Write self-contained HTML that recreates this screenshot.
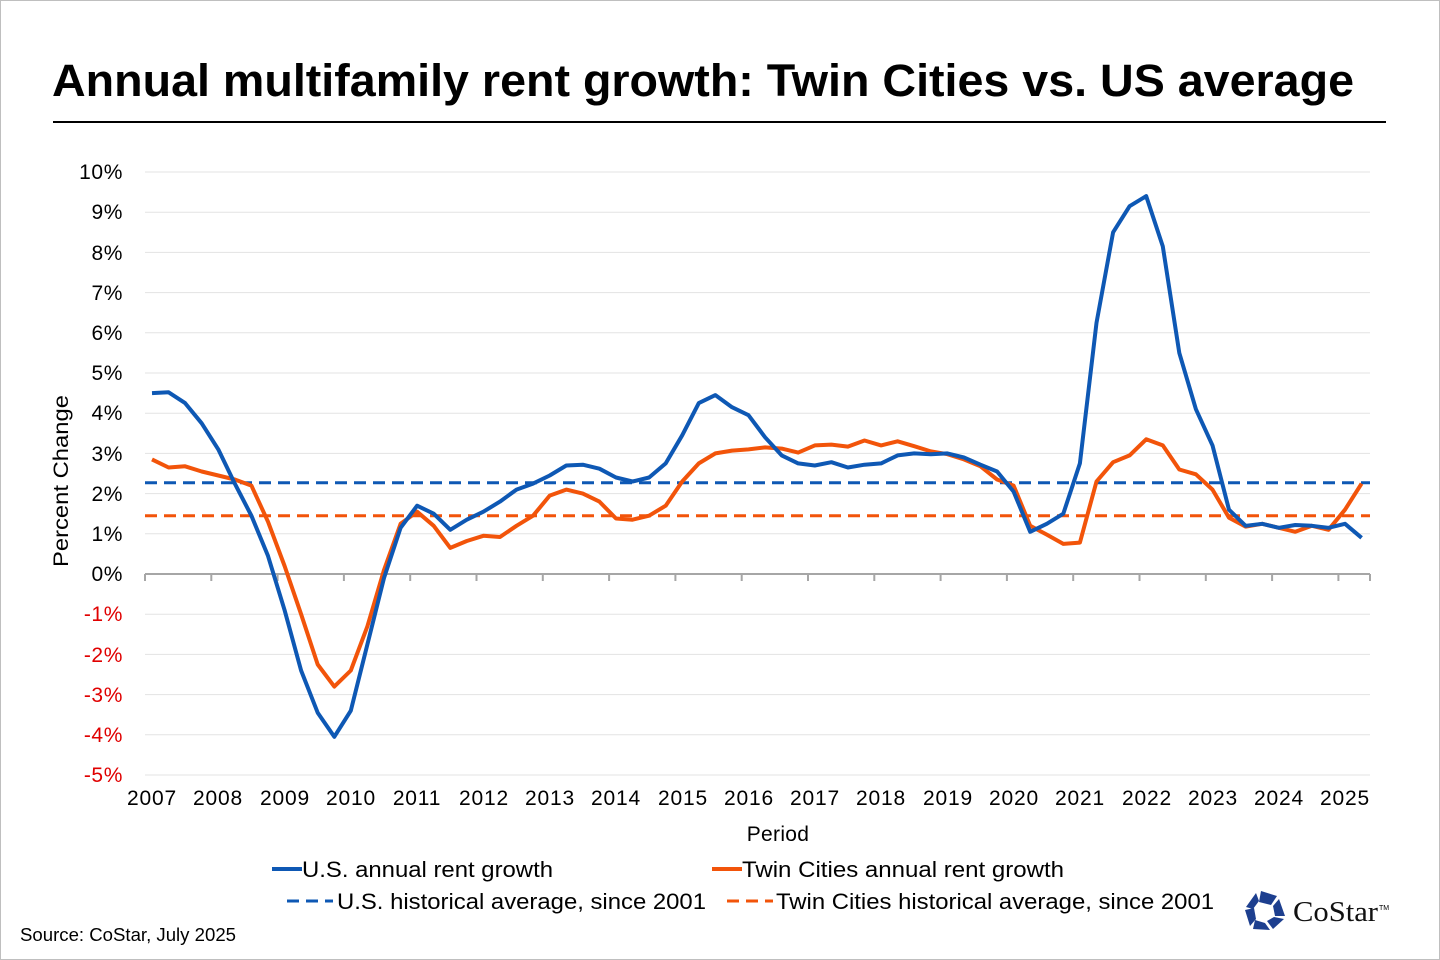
<!DOCTYPE html>
<html><head><meta charset="utf-8"><style>
html,body{margin:0;padding:0;background:#fff}
svg{display:block;font-family:"Liberation Sans",Arial,sans-serif}
</style></head><body>
<svg id="s" width="1440" height="960" viewBox="0 0 1440 960" xmlns="http://www.w3.org/2000/svg">
<rect x="0.5" y="0.5" width="1439" height="959" fill="#fff" stroke="#bfbfbf"/>
<text x="52" y="96" font-size="45" font-weight="bold" fill="#000" textLength="1302" lengthAdjust="spacingAndGlyphs">Annual multifamily rent growth: Twin Cities vs. US average</text>
<line x1="53" y1="122" x2="1386" y2="122" stroke="#000" stroke-width="2"/>
<g id="grid"></g>
<g font-size="21" text-anchor="end" letter-spacing="0.6">
<text x="123" y="179">10%</text><text x="123" y="219">9%</text><text x="123" y="260">8%</text><text x="123" y="300">7%</text><text x="123" y="340">6%</text><text x="123" y="380">5%</text><text x="123" y="420">4%</text><text x="123" y="461">3%</text><text x="123" y="501">2%</text><text x="123" y="541">1%</text><text x="123" y="581">0%</text>
<g fill="#e00000"><text x="123" y="621">-1%</text><text x="123" y="662">-2%</text><text x="123" y="702">-3%</text><text x="123" y="742">-4%</text><text x="123" y="782">-5%</text></g>
</g>
<g font-size="21" text-anchor="middle" letter-spacing="0.8">
<text x="152" y="805">2007</text><text x="218" y="805">2008</text><text x="285" y="805">2009</text><text x="351" y="805">2010</text><text x="417" y="805">2011</text><text x="484" y="805">2012</text><text x="550" y="805">2013</text><text x="616" y="805">2014</text><text x="683" y="805">2015</text><text x="749" y="805">2016</text><text x="815" y="805">2017</text><text x="881" y="805">2018</text><text x="948" y="805">2019</text><text x="1014" y="805">2020</text><text x="1080" y="805">2021</text><text x="1147" y="805">2022</text><text x="1213" y="805">2023</text><text x="1279" y="805">2024</text><text x="1345" y="805">2025</text>
<text x="778" y="841" letter-spacing="0.3">Period</text>
</g>
<text transform="translate(68,481) rotate(-90)" font-size="21" text-anchor="middle" textLength="172" lengthAdjust="spacingAndGlyphs">Percent Change</text>
<g id="series"></g>
<g font-size="22">
<line x1="272" y1="869" x2="302" y2="869" stroke="#0e58b4" stroke-width="4"/><text x="302" y="877" textLength="251" lengthAdjust="spacingAndGlyphs">U.S. annual rent growth</text>
<line x1="712" y1="869" x2="742" y2="869" stroke="#f2540a" stroke-width="4"/><text x="742" y="877" textLength="322" lengthAdjust="spacingAndGlyphs">Twin Cities annual rent growth</text>
<line x1="287" y1="901" x2="333" y2="901" stroke="#0e58b4" stroke-width="3" stroke-dasharray="12,7"/><text x="337" y="909" textLength="369" lengthAdjust="spacingAndGlyphs">U.S. historical average, since 2001</text>
<line x1="727" y1="901" x2="773" y2="901" stroke="#f2540a" stroke-width="3" stroke-dasharray="12,7"/><text x="776" y="909" textLength="438" lengthAdjust="spacingAndGlyphs">Twin Cities historical average, since 2001</text>
</g>
<text x="20" y="941" font-size="18" textLength="216" lengthAdjust="spacingAndGlyphs">Source: CoStar, July 2025</text>
<g transform="translate(1265,910)" fill="#1d3f8f">
<polygon points="-4,-19 12,-14 6,-5 -6,-8"/><polygon points="14,-11 20,6 10,6 8,-4"/><polygon points="19,9 8,19 2,11 9,7"/><polygon points="5,20 -12,19 -10,10 0,13"/><polygon points="-15,16 -20,0 -11,-2 -9,9"/><polygon points="-19,-3 -9,-17 -6,-9 -12,-1"/>
</g>
<text x="1293" y="921" font-size="28" font-family="Liberation Serif,serif" fill="#111" textLength="85" lengthAdjust="spacingAndGlyphs">CoStar</text>
<text x="1379" y="910" font-size="7">TM</text>
</svg>
<script>
var ns="http://www.w3.org/2000/svg";
function el(p,t,a){var e=document.createElementNS(ns,t);for(var k in a)e.setAttribute(k,a[k]);document.getElementById(p).appendChild(e);return e;}
function Y(v){return 574-v*40.2;}
for(var v=-5;v<=10;v++){if(v==0)continue;el("grid","line",{x1:145,x2:1370,y1:Y(v),y2:Y(v),stroke:"#e3e3e3","stroke-width":1});}
el("grid","line",{x1:145,x2:1370,y1:574,y2:574,stroke:"#a6a6a6","stroke-width":2});
for(var k=0;k<=18;k++){var x=145+k*66.3;el("grid","line",{x1:x,x2:x,y1:574,y2:581,stroke:"#a6a6a6","stroke-width":2});}
el("grid","line",{x1:1370,x2:1370,y1:574,y2:581,stroke:"#a6a6a6","stroke-width":2});
var us=[4.5,4.52,4.25,3.75,3.1,2.25,1.45,0.45,-0.9,-2.4,-3.45,-4.05,-3.4,-1.75,-0.1,1.15,1.7,1.5,1.1,1.35,1.55,1.8,2.1,2.25,2.45,2.7,2.72,2.62,2.4,2.3,2.4,2.75,3.45,4.25,4.45,4.15,3.95,3.4,2.95,2.75,2.7,2.78,2.65,2.72,2.75,2.95,3.0,2.98,3.0,2.9,2.72,2.55,2.05,1.05,1.25,1.5,2.75,6.25,8.5,9.15,9.4,8.15,5.5,4.1,3.2,1.6,1.2,1.25,1.15,1.22,1.2,1.15,1.25,0.9];
var tc=[2.85,2.65,2.68,2.55,2.45,2.35,2.2,1.3,0.2,-1.0,-2.25,-2.8,-2.4,-1.3,0.1,1.25,1.55,1.2,0.65,0.82,0.95,0.92,1.2,1.45,1.95,2.1,2.0,1.8,1.38,1.35,1.45,1.7,2.3,2.75,3.0,3.07,3.1,3.15,3.12,3.02,3.2,3.22,3.17,3.32,3.2,3.3,3.18,3.05,2.98,2.85,2.68,2.35,2.2,1.2,0.98,0.75,0.78,2.3,2.78,2.95,3.35,3.2,2.6,2.48,2.1,1.4,1.18,1.25,1.15,1.05,1.2,1.1,1.6,2.25];
function pts(a){return a.map(function(v,i){return (152+i*16.57).toFixed(1)+","+Y(v).toFixed(1);}).join(" ");}
el("series","line",{x1:145,x2:1370,y1:Y(2.27),y2:Y(2.27),stroke:"#0e58b4","stroke-width":3,"stroke-dasharray":"12,7"});
el("series","line",{x1:145,x2:1370,y1:Y(1.45),y2:Y(1.45),stroke:"#f2540a","stroke-width":3,"stroke-dasharray":"12,7"});
el("series","polyline",{points:pts(tc),fill:"none",stroke:"#f2540a","stroke-width":4,"stroke-linejoin":"round"});
el("series","polyline",{points:pts(us),fill:"none",stroke:"#0e58b4","stroke-width":4,"stroke-linejoin":"round"});
</script>
</body></html>
